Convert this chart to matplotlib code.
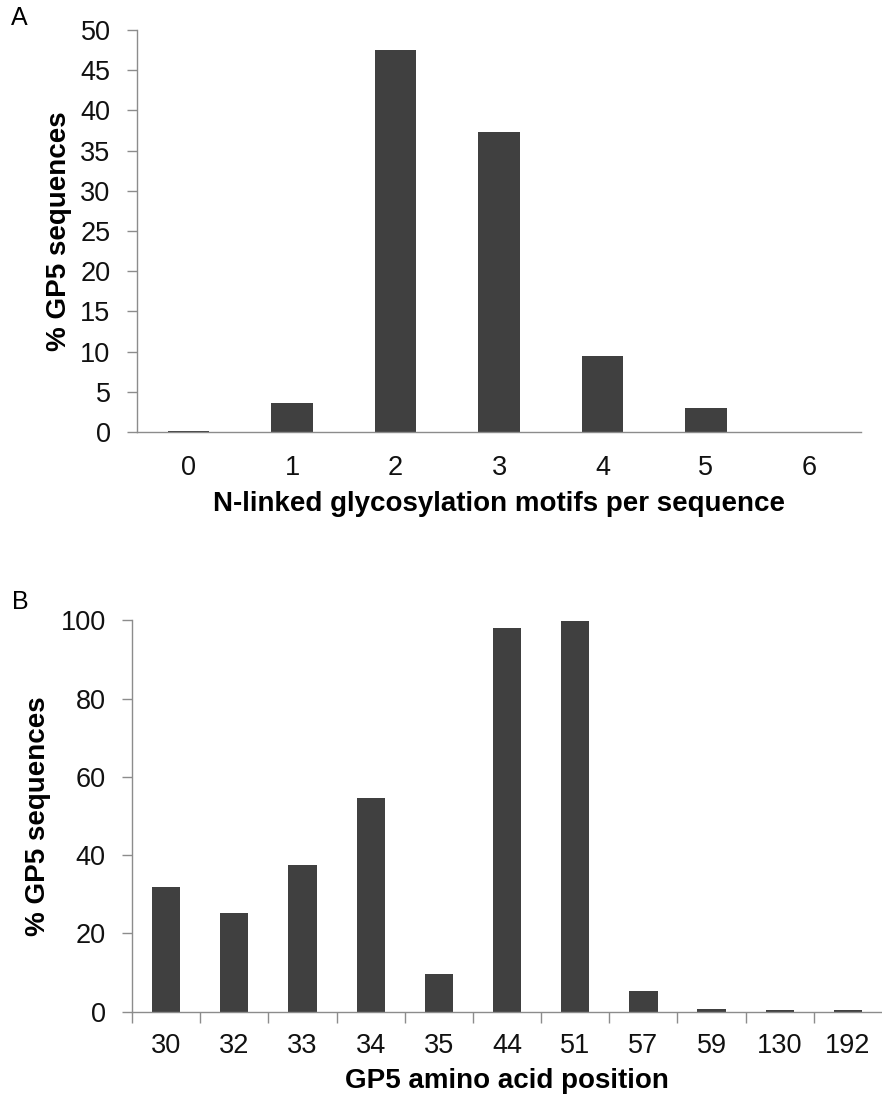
import numpy as np
import matplotlib.pyplot as plt
from matplotlib.ticker import FixedLocator

plt.rcParams['font.family'] = ['Liberation Sans', 'DejaVu Sans']

# Panel A: number of N-linked glycosylation motifs per GP5 sequence
motif_counts = ['0', '1', '2', '3', '4', '5', '6']
motif_pct = [0.1, 3.6, 47.5, 37.3, 9.5, 3.0, 0.0]

# Panel B: frequency of each glycosylation site position
positions = ['30', '32', '33', '34', '35', '44', '51', '57', '59', '130', '192']
position_pct = [31.8, 25.2, 37.5, 54.6, 9.6, 98.0, 99.9, 5.2, 0.6, 0.35, 0.35]

BAR = '#404040'
SPINE = '#8c8c8c'
TICK_FS = 19.5
LABEL_FS = 20

fig = plt.figure(figsize=(8.82, 11.01), dpi=100)


def style_axes(ax):
    for side in ('top', 'right'):
        ax.spines[side].set_visible(False)
    for side in ('left', 'bottom'):
        ax.spines[side].set_color(SPINE)
        ax.spines[side].set_linewidth(1.0)
    ax.tick_params(axis='y', colors=SPINE, labelcolor='#111111',
                   labelsize=TICK_FS, length=7, width=1.0, pad=12)


axA = fig.add_axes([0.1553, 0.6076, 0.821, 0.3652])
xa = np.arange(len(motif_counts))
axA.bar(xa, motif_pct, width=0.4, color=BAR)
axA.set_xlim(-0.5, len(motif_counts) - 0.5)
axA.set_ylim(0, 50)
axA.set_yticks(np.arange(0, 51, 5))
axA.set_xticks(xa)
axA.set_xticklabels(motif_counts)
style_axes(axA)
axA.tick_params(axis='x', length=0, labelsize=TICK_FS, labelcolor='#111111',
                pad=16.5)
axA.set_xlabel('N-linked glycosylation motifs per sequence', fontsize=LABEL_FS,
               fontweight='bold', labelpad=7)
axA.set_ylabel('% GP5 sequences', fontsize=LABEL_FS, fontweight='bold',
               labelpad=6)

axB = fig.add_axes([0.1497, 0.0811, 0.8503, 0.3555])
xb = np.arange(len(positions))
axB.bar(xb, position_pct, width=0.415, color=BAR)
axB.set_xlim(-0.5, len(positions) - 0.5)
axB.set_ylim(0, 100)
axB.set_yticks(np.arange(0, 101, 20))
axB.set_xticks(xb)
axB.set_xticklabels(positions)
axB.xaxis.set_minor_locator(FixedLocator(xb - 0.5))
style_axes(axB)
axB.tick_params(axis='x', which='major', length=0, labelsize=TICK_FS,
                labelcolor='#111111', pad=15)
axB.tick_params(axis='x', which='minor', colors=SPINE, length=8, width=1.0)
axB.set_xlabel('GP5 amino acid position', fontsize=LABEL_FS,
               fontweight='bold', labelpad=7)
axB.set_ylabel('% GP5 sequences', fontsize=LABEL_FS, fontweight='bold',
               labelpad=7)

fig.text(0.0125, 0.9945, 'A', fontsize=18, va='top', ha='left')
fig.text(0.0135, 0.4645, 'B', fontsize=18, va='top', ha='left')

fig.savefig('out.png', dpi=100, facecolor='white')
